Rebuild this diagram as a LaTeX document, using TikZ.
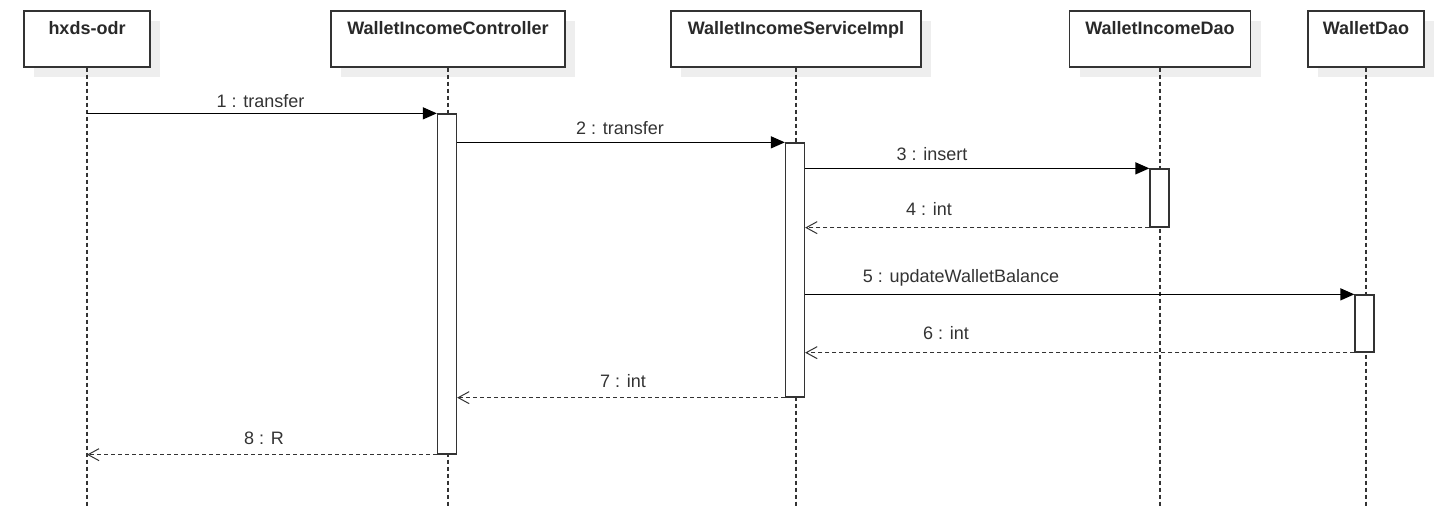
\documentclass[tikz,border=0pt]{standalone}
\usepackage{fontspec}
\setmainfont{Liberation Sans}
\usetikzlibrary{arrows.meta,shadows}
\definecolor{ink}{HTML}{333333}
\definecolor{shade}{HTML}{EEEEEE}
\tikzset{
  actor/.style={draw=ink, line width=1.4pt, fill=white, minimum height=56pt, inner sep=0pt,
    drop shadow={shadow xshift=10pt, shadow yshift=-10pt, fill=shade, opacity=1}},
  title/.style={anchor=base, font=\fontsize{18}{20}\selectfont\bfseries, text=ink!80!black, inner sep=0pt},
  lifeline/.style={draw=ink, line width=1.2pt, dash pattern=on 4pt off 3pt},
  actbar/.style={draw=ink, line width=1.3pt, fill=white, minimum width=19pt, inner sep=0pt},
  msg/.style={draw=black, line width=1.3pt, -{Triangle[length=14pt,width=12pt]}},
  ret/.style={draw=ink, line width=1.2pt, dash pattern=on 4pt off 3pt, -{Straight Barb[length=11pt,width=12pt,line width=1pt]}},
  mlabel/.style={anchor=base, font=\fontsize{18}{20}\selectfont, text=ink, inner sep=0pt}
}
\begin{document}
\begin{tikzpicture}[x=1pt,y=-1pt]
\useasboundingbox (0,0) rectangle (1434,512);
% actors
\node[actor, minimum width=126pt] (a1) at (87,39) {};
\node[actor, minimum width=234pt] (a2) at (448,39) {};
\node[actor, minimum width=250pt] (a3) at (796,39) {};
\node[actor, minimum width=181pt] (a4) at (1160,39) {};
\node[actor, minimum width=116pt] (a5) at (1366,39) {};
\node[title] (t1) at (87,34) {hxds-odr};
\node[title] (t2) at (448,34) {WalletIncomeController};
\node[title] (t3) at (796,34) {WalletIncomeServiceImpl};
\node[title] (t4) at (1160,34) {WalletIncomeDao};
\node[title] (t5) at (1366,34) {WalletDao};
% lifeline ends
\coordinate (e1) at (87,507);
\coordinate (e2) at (448,507);
\coordinate (e3) at (796,507);
\coordinate (e4) at (1160,507);
\coordinate (e5) at (1366,507);
\draw[lifeline] (a1.south) -- (e1);
\draw[lifeline] (a2.south) -- (e2);
\draw[lifeline] (a3.south) -- (e3);
\draw[lifeline] (a4.south) -- (e4);
\draw[lifeline] (a5.south) -- (e5);
% activation bars
\node[actbar, minimum height=340pt] (b2) at (447,284) {};
\node[actbar, minimum height=254pt] (b3) at (795,270) {};
\node[actbar, minimum height=58pt] (b4) at (1159.5,198) {};
\node[actbar, minimum height=57pt] (b5) at (1364.5,323.5) {};
% messages
\draw[msg] (a1.south |- b2.north west) -- (b2.north west);
\draw[msg] (b2.east |- b3.north west) -- (b3.north west);
\draw[msg] (b3.east |- b4.north west) -- (b4.north west);
\draw[ret] (b4.south west) -- (b3.east |- b4.south west);
\coordinate (m5) at (795,295);
\draw[msg] (b3.east |- b5.north west) -- (b5.north west);
\draw[ret] (b5.south west) -- (b3.east |- b5.south west);
\draw[ret] (b3.south west) -- (b2.east |- b3.south west);
\draw[ret] (b2.south west) -- (a1.south |- b2.south west);
% labels
\node[mlabel] (l1) at (260.5,107) {1 : transfer};
\node[mlabel] (l2) at (620,134) {2 : transfer};
\node[mlabel] (l3) at (932,160) {3 : insert};
\node[mlabel] (l4) at (929,215) {4 : int};
\node[mlabel] (l5) at (961,282) {5 : updateWalletBalance};
\node[mlabel] (l6) at (946,339) {6 : int};
\node[mlabel] (l7) at (623,387) {7 : int};
\node[mlabel] (l8) at (264,444) {8 : R};
\end{tikzpicture}
\end{document}
